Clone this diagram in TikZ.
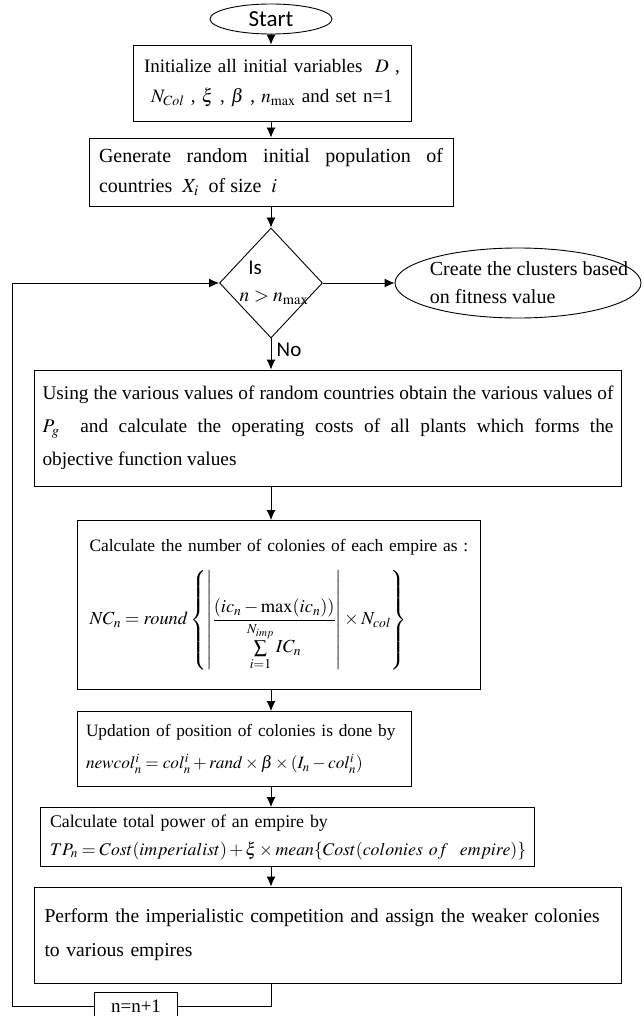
\documentclass[tikz,border=0pt]{standalone}
\usepackage{amsmath}
\usepackage{mathptmx}
\usepackage{fontspec}
\setmainfont{Liberation Serif}
\newfontfamily\calib{Carlito}
\usetikzlibrary{shapes.geometric,arrows.meta}

\newcommand{\fs}[2]{\fontsize{#1}{#2}\selectfont}

\begin{document}
\begin{tikzpicture}[x=1pt,y=-1pt,
        every node/.style={font=\fs{18}{30}},
        arr/.style={-{Latex[length=10pt,width=9pt]}, line width=0.9pt},
        ln/.style={line width=0.9pt},
        procbox/.style={draw, rectangle, line width=0.9pt, inner xsep=10pt, inner ysep=0pt},
        term/.style={draw, ellipse, line width=0.9pt, inner sep=0pt},
        lbl/.style={font=\calib\fs{21}{24}, inner sep=0pt}]
    \useasboundingbox (0,0) rectangle (644,1016);

    % start and setup
    \node[term, minimum width=122, minimum height=30, lbl, font=\calib\fs{23}{24}] (start) at (271,19) {Start};
    \node[procbox, text width=258, minimum height=76, align=center, font=\fs{19}{30}] (init) at (272,83)
        {Initialize all initial variables \ $D$ ,\\ $N_{Col}$ , $\xi$ ,\ $\beta$ , $n_{\max}$ and set n=1};
    \node[procbox, text width=344, minimum height=68, align=justify, font=\fs{20}{30}] (gen) at (271,172)
        {Generate random initial population of\linebreak countries \ $X_i$ \ of size \ $i$};

    % decision
    \node[draw, diamond, line width=0.9pt, minimum width=103, minimum height=110, inner sep=0pt] (dec) at (271,283) {};
    \node[lbl] (is) at (255,268) {Is};
    \node[inner sep=0pt, font=\fs{19.5}{24}] (cond) at (274,298) {$n > n_{\max}$};
    \node[term, minimum width=246, minimum height=70] (clus) at (518,283) {};
    \node[align=left, font=\fs{20}{28}, inner sep=0pt] (clustxt) at (529,283)
        {Create the clusters based\\on fitness value};
    \node[lbl] (no) at (289,350) {No};

    % main loop
    \node[procbox, text width=571, inner xsep=8pt, minimum height=116, align=justify, font=\fs{19.3}{33}] (cost) at (328,428)
        {Using the various values of random countries obtain the various values of\linebreak
         $P_g$ \ and calculate the operating costs of all plants which forms the\linebreak
         objective function values};
    \node[procbox, text width=379, inner xsep=12pt, minimum height=169, align=left, font=\fs{17.4}{30}] (nc) at (279,605)
        {Calculate the number of colonies of each empire as :\\[14pt]
         {\fs{18.4}{30}$\displaystyle NC_n = round\left\{\left|\frac{(ic_n - \max(ic_n))}{\sum\limits_{i=1}^{N_{imp}} IC_n}\right|\times N_{col}\right\}$}};
    \node[procbox, text width=316, inner xsep=9pt, minimum height=75, align=left, font=\fs{17.3}{32}] (upd) at (244,749)
        {\mbox{Updation of position of colonies is done by}\\
         \mbox{$newcol_n^i = col_n^i + rand\times\beta\times(I_n - col_n^i)$}};
    \node[procbox, text width=474, inner xsep=10pt, minimum height=59, align=left, font=\fs{17.8}{28}] (tp) at (287,837)
        {Calculate total power of an empire by\\
         \mbox{$TP_n = Cost(imperialist) + \xi\times mean\{Cost(colonies\ of\ \ empire)\}$}};
    \node[procbox, text width=567, minimum height=96, align=left, font=\fs{19.6}{34}] (comp) at (328,935)
        {Perform the imperialistic competition and assign the weaker colonies\\to various empires};
    \node[procbox, minimum width=83, minimum height=28, inner xsep=4pt, font=\fs{19}{24}] (inc) at (136,1006) {n=n+1};
    \coordinate (back) at (12,283);

    % connectors
    \draw[arr] (start) -- (init.north -| start);
    \draw[arr] (init.south -| start) -- (gen.north -| start);
    \draw[arr] (gen.south -| dec) -- (dec.north);
    \draw[arr] (dec.east) -- (clus.west);
    \draw[arr] (dec.south) -- (cost.north -| dec);
    \draw[arr] (cost.south -| dec) -- (nc.north -| dec);
    \draw[arr] (nc.south -| dec) -- (upd.north -| dec);
    \draw[arr] (upd.south -| dec) -- (tp.north -| dec);
    \draw[arr] (tp.south -| dec) -- (comp.north -| dec);
    \draw[ln] (comp.south -| dec) |- (inc.east);
    \draw[arr] (inc.west) -| (back) -- (dec.west);
\end{tikzpicture}
\end{document}
